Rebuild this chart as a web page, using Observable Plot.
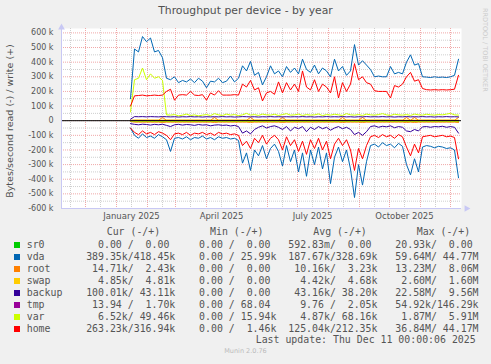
<!DOCTYPE html>
<html><head><meta charset="utf-8">
<script src="https://cdn.jsdelivr.net/npm/d3@7"></script>
<script src="https://cdn.jsdelivr.net/npm/@observablehq/plot@0.6"></script>
<style>
html,body{margin:0;padding:0;}
body{background:#f0f0f0;width:491px;height:364px;overflow:hidden;position:relative;font-family:"DejaVu Sans",sans-serif;color:#555;}
#chart{position:absolute;left:0;top:0;}
.abs{position:absolute;white-space:pre;}
.title{top:4px;left:0;width:491px;text-align:center;font-size:10.8px;color:#505050;line-height:14px;}
.ylab{left:10px;top:121px;font-size:9.5px;color:#505050;transform:translate(-50%,-50%) rotate(-90deg);line-height:12px;}
.mono{font-family:"DejaVu Sans Mono",monospace;font-size:9.9px;line-height:12px;color:#555;}
.sw{position:absolute;width:6px;height:6px;}
.rrd{left:485px;top:8px;font-size:6.5px;color:#ccc;transform-origin:0 0;transform:rotate(90deg) translate(0,-50%);line-height:8px;}
.munin{left:0;width:491px;text-align:center;top:347px;font-size:6.5px;color:#bbb;}
</style>
</head><body>
<div id="chart"></div>
<script>
// ---- data (values in k bytes/second), sampled every 4 days from 2025-01-15 ----
const startDate = Date.UTC(2025, 0, 15);
const stepDays = 4;

const vdaWrite = [150,490,470,575,540,565,470,480,430,290,
280,300,260,275,265,285,260,290,270,225,
270,265,290,260,270,305,265,290,375,340,
405,310,330,245,300,375,320,340,300,370,
330,360,320,420,350,330,380,320,360,340,
300,420,340,370,310,340,520,380,410,380,
350,300,305,300,300,370,320,330,320,400,
450,380,390,300,298,295,300,296,298,295,
300,310,420];
const vdaRead = [50,100,120,90,115,105,120,95,110,130,
210,120,115,125,110,130,115,120,105,125,
115,130,110,120,115,125,120,135,290,220,
340,200,240,170,260,190,160,210,310,170,
280,200,350,220,380,200,300,180,330,220,
430,250,180,280,200,330,525,300,440,280,
170,160,180,150,170,160,185,155,175,300,
370,260,350,180,170,175,185,175,180,190,
185,200,390];
const homeWrite = [100,170,172,175,170,172,175,172,175,200,
215,140,175,178,175,200,175,172,178,140,
190,175,205,175,175,175,178,175,250,230,
275,210,225,135,190,200,180,265,190,260,
210,250,200,340,230,210,280,200,250,230,
190,300,155,260,200,250,390,280,300,260,
250,205,200,200,200,155,240,230,250,300,
330,270,280,220,212,210,212,210,212,210,
212,215,310];
const homeRead = [50,80,95,70,90,80,95,75,85,100,
130,90,85,95,80,100,85,90,80,95,
85,100,80,90,85,95,90,100,170,140,
190,120,150,100,160,120,100,130,200,110,
170,130,210,140,230,130,190,120,200,140,
260,160,120,170,130,200,340,190,260,170,
110,100,115,95,110,100,120,95,110,180,
240,160,220,110,105,100,110,105,100,110,
105,115,260];
const varWrite = [60,280,290,360,280,320,290,300,275,40,
38,42,33,38,45,35,40,33,38,42,
35,48,40,36,45,38,42,35,40,50,
38,42,36,45,40,38,44,36,42,48,
38,40,45,36,42,38,40,46,35,42,
38,44,40,36,48,40,38,42,36,45,
40,38,42,48,40,36,44,40,38,42,
36,45,40,38,44,40,38,42,40,45,
50,40,38];
const varRead = [2,5,6,5,6,5,6,5,6,5,
6,5,6,5,6,5,6,5,6,5,
6,5,6,5,6,5,6,5,6,5,
6,5,6,5,6,5,6,5,6,5,
6,5,6,5,6,5,6,5,6,5,
6,5,6,5,6,5,6,5,6,5,
6,5,6,5,6,5,6,5,6,5,
6,5,6,5,6,5,6,5,6,5,
6,5,6];
const backupWrite = [10,28,27,28,26,28,27,26,28,27,
26,27,25,27,26,28,26,27,25,27,
26,27,26,28,26,27,25,26,28,27,
26,27,25,27,26,28,26,27,26,27,
26,27,26,28,26,27,25,27,26,28,
26,27,26,28,26,27,25,27,26,28,
26,27,26,28,26,27,25,27,26,28,
26,27,26,28,26,27,25,27,26,28,
26,27,26];
const backupRead = [20,25,28,24,26,30,25,28,24,32,
40,28,25,30,26,28,32,26,30,28,
35,30,28,32,30,36,32,40,85,70,
90,60,45,35,50,40,35,45,60,40,
70,45,55,40,75,45,60,40,55,45,
65,50,40,55,45,60,95,80,100,75,
40,35,45,38,42,35,48,40,45,70,
75,60,70,42,40,45,40,42,38,45,
40,45,85];
const rootWrite = [2,3,3,3,3,3,3,3,22,3,
3,3,3,3,3,3,3,3,3,3,
3,22,3,3,3,3,3,3,3,3,
22,3,3,3,3,3,3,3,22,3,
3,3,3,3,3,3,3,3,3,3,
3,3,3,22,3,3,3,3,22,3,
3,3,3,3,3,3,3,3,3,22,
3,22,3,3,3,3,3,3,3,3,
3,3,22];
const rootRead = [5,10,10,10,10,10,10,10,12,10,
10,10,10,10,10,10,10,10,10,10,
10,12,10,10,10,10,10,10,10,10,
12,10,10,10,10,10,10,10,12,10,
10,10,10,10,10,10,10,10,10,10,
10,10,10,12,10,10,10,10,12,10,
10,10,10,10,10,10,10,10,10,12,
10,12,10,10,10,10,10,10,10,10,
10,10,12];
const swapWrite = [2,4,4,4,4,4,4,4,4,4,
4,4,4,4,4,4,4,4,4,4,
4,4,4,4,4,4,4,4,4,4,
4,4,4,4,4,4,4,4,4,4,
4,4,4,4,4,4,4,4,4,4,
4,4,4,4,4,4,4,4,4,4,
4,4,4,4,4,4,4,4,4,4,
4,4,4,4,4,4,4,4,4,4,
4,4,4];
const swapRead = [3,5,5,5,5,5,5,5,5,5,
5,5,5,5,5,5,5,5,5,5,
5,5,5,5,5,5,5,5,5,5,
5,5,5,5,5,5,5,5,5,5,
5,5,5,5,5,5,5,5,5,5,
5,5,5,5,5,5,5,5,5,5,
5,5,5,5,5,5,5,5,5,5,
5,5,5,5,5,5,5,5,5,5,
5,5,5];
const tmpWrite = [0,0,0,0,0,0,0,0,0,0, 0,0,0,0,0,0,0,0,0,0, 0,0,0,0,0,0,0,0,0,0, 0,0,0,0,0,0,0,0,0,0,
0,0,0,0,0,0,0,0,0,0, 0,0,0,0,0,0,0,0,0,0, 0,0,0,0,0,0,0,0,0,0, 0,0,0,0,0,0,0,0,0,0, 0,0,0];
const tmpRead = tmpWrite.slice();
const sr0Write = [0,0,0,0,0,0,0,0,0,0, 0,0,0,0,0,0,0,0,0,0, 0,0,0,0,0,0,0,0,0,0, 0,0,0,0,0,0,0,0,0,0,
0,0,0,0,0,0,0,0,0,0, 0,0,0,0,0,0,0,0,0,0, 0,0,0,0,0,0,0,0,0,0, 0,0,0,0,0,0,0,0,0,0, 0,0,0];
const sr0Read = sr0Write.slice();

const seriesNames  = ["sr0","vda","root","swap","backup","tmp","var","home"];
const seriesColors = ["#00cc00","#0066b3","#ff8000","#ffcc00","#330099","#990099","#ccff00","#ff0000"];
const curCol = ["  0.00 /  0.00 ","389.35k/418.45k"," 14.71k/  2.43k","  4.85k/  4.81k","100.01k/ 43.11k"," 13.94 /  1.70k","  6.52k/ 49.46k","263.23k/316.94k"];
const minCol = ["  0.00 /  0.00 ","  0.00 / 25.99k","  0.00 /  0.00 ","  0.00 /  0.00 ","  0.00 /  0.00 ","  0.00 / 68.04 ","  0.00 / 15.94k","  0.00 /  1.46k"];
const avgCol = ["592.83m/  0.00 ","187.67k/328.69k"," 10.16k/  3.23k","  4.42k/  4.68k"," 43.16k/ 38.20k","  9.76 /  2.05k","  4.87k/ 68.16k","125.04k/212.35k"];
const maxCol = [" 20.93k/  0.00 "," 59.64M/ 44.77M"," 13.23M/  8.06M","  2.60M/  1.60M"," 22.58M/  9.56M"," 54.92k/146.29k","  1.87M/  5.91M"," 36.84M/ 44.17M"];
const headers = ["Cur (-/+)","Min (-/+)","Avg (-/+)","Max (-/+)"];
const lastUpdate = "Last update: Thu Dec 11 00:00:06 2025";

const yMajor = [-600,-500,-400,-300,-200,-100,0,100,200,300,400,500,600];
const yMinor = [-550,-450,-350,-250,-150,-50,50,150,250,350,450,550];
const xLabelDates = [Date.UTC(2025,0,16), Date.UTC(2025,3,16), Date.UTC(2025,6,16), Date.UTC(2025,9,16)].map(t => new Date(t));
const xDomain = [new Date(Date.UTC(2024,10,7)), new Date(Date.UTC(2025,11,12))];
const yDomain = [-600, 630];

// ---- build ----
const dates = vdaWrite.map((_, i) => new Date(startDate + i * stepDays * 86400000));
const writes = [sr0Write, vdaWrite, rootWrite, swapWrite, backupWrite, tmpWrite, varWrite, homeWrite];
const reads  = [sr0Read, vdaRead, rootRead, swapRead, backupRead, tmpRead, varRead, homeRead];

const monthStarts = d3.utcMonth.range(xDomain[0], xDomain[1]);
const monthMids = d3.utcMonth.range(d3.utcMonth.floor(xDomain[0]), xDomain[1]).map(d => d3.utcDay.offset(d, 15)).filter(d => d >= xDomain[0] && d <= xDomain[1]);

const lineMarks = [];
seriesNames.forEach((name, k) => {
  const rRows = dates.map((d, i) => ({date: d, v: -reads[k][i]}));
  const wRows = dates.map((d, i) => ({date: d, v: writes[k][i]}));
  lineMarks.push(Plot.line(rRows, {x: "date", y: "v", stroke: seriesColors[k], strokeWidth: 1}));
  lineMarks.push(Plot.line(wRows, {x: "date", y: "v", stroke: seriesColors[k], strokeWidth: 1}));
});

const axisColor = "#c8c8f4";
const chart = Plot.plot({
  width: 491, height: 224,
  marginLeft: 61, marginRight: 30, marginTop: 28, marginBottom: 16,
  style: {background: "transparent", fontFamily: "DejaVu Sans", fontSize: "8px", color: "#555", overflow: "visible"},
  x: {type: "utc", domain: xDomain},
  y: {domain: yDomain},
  marks: [
    Plot.frame({fill: "white", stroke: null}),
    Plot.gridY(yMinor, {stroke: "#cfcfcf", strokeOpacity: 1, strokeDasharray: "1,1"}),
    Plot.gridX(monthMids, {stroke: "#cfcfcf", strokeOpacity: 1, strokeDasharray: "1,1"}),
    Plot.gridY(yMajor, {stroke: "#f0a8a8", strokeOpacity: 1, strokeDasharray: "1,1"}),
    Plot.gridX(monthStarts, {stroke: "#f0a8a8", strokeOpacity: 1, strokeDasharray: "1,1"}),
    Plot.axisY(yMajor, {tickSize: 0, tickPadding: 8, tickFormat: d => d === 0 ? "0" : `${d} k`, label: null, fontSize: 8}),
    Plot.axisX(xLabelDates, {tickSize: 0, tickPadding: 4, tickFormat: d3.utcFormat("%B %Y"), label: null, fontSize: 8.5}),
    ...lineMarks,
    Plot.ruleY([0], {stroke: "#000", strokeWidth: 1}),
    Plot.ruleX([xDomain[0]], {stroke: axisColor}),
    Plot.ruleY([yDomain[0]], {stroke: axisColor}),
    Plot.dot([{x: xDomain[0], y: yDomain[1]}], {x: "x", y: "y", symbol: "triangle", r: 2.5, fill: axisColor, stroke: null, dy: -1}),
    Plot.dot([{x: xDomain[1], y: yDomain[0]}], {x: "x", y: "y", symbol: "triangle", r: 2.5, fill: axisColor, stroke: null, rotate: 90, dx: 5})
  ]
});
document.getElementById("chart").appendChild(chart);

// ---- texts ----
function addDiv(cls, text, styles) {
  const el = document.createElement("div");
  el.className = "abs " + cls;
  el.textContent = text;
  Object.assign(el.style, styles || {});
  document.body.appendChild(el);
  return el;
}
addDiv("title", "Throughput per device - by year");
addDiv("ylab", "Bytes/second read (-) / write (+)");
addDiv("rrd", "RRDTOOL / TOBI OETIKER");
addDiv("munin", "Munin 2.0.76");

const headerX = [106.7, 210, 313.3, 416.7];
headers.forEach((h, i) => addDiv("mono", h, {left: headerX[i] + "px", top: "225.7px"}));
seriesNames.forEach((name, k) => {
  const cy = 244.7 + 12 * k;
  const sw = document.createElement("div");
  sw.className = "sw";
  Object.assign(sw.style, {left: "14px", top: (cy - 3) + "px", background: seriesColors[k]});
  document.body.appendChild(sw);
  const line = name.padEnd(10) + curCol[k] + "  " + minCol[k] + "  " + avgCol[k] + "  " + maxCol[k];
  addDiv("mono", line, {left: "26.7px", top: (cy - 6) + "px"});
});
addDiv("mono", lastUpdate, {left: "255.7px", top: "334px"});
</script>
</body></html>
